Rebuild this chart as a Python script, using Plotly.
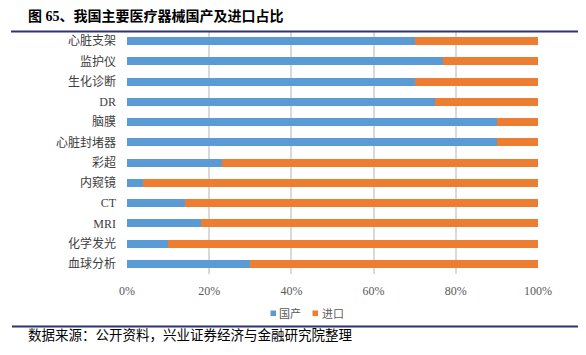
import plotly.graph_objects as go

categories = ["心脏支架", "监护仪", "生化诊断", "DR", "脑膜", "心脏封堵器",
              "彩超", "内窥镜", "CT", "MRI", "化学发光", "血球分析"]
domestic = [70, 77, 70, 75, 90, 90, 23, 4, 14, 18, 10, 30]
imported = [100 - v for v in domestic]
series_names = ["国产", "进口"]
series_colors = ["#5B9BD5", "#ED7D31"]
x_ticks = [0, 20, 40, 60, 80, 100]
x_ticklabels = ["0%", "20%", "40%", "60%", "80%", "100%"]

# the page body has an 8px margin: figure origin sits at page (8, 8)
OFF = 8
W, H = 586 - OFF, 355 - OFF
# plot area in page pixels
L, R, T, B = 127, 538, 31, 274
pw, ph = R - L, B - T

def px(x):
    return (x - L) / pw

def py(y):
    return (B - y) / ph

FONT = "Liberation Serif, Noto Sans CJK SC, serif"

fig = go.Figure()
for name, vals, col in zip(series_names, [domestic, imported], series_colors):
    fig.add_trace(go.Bar(y=categories, x=vals, name=name, orientation="h",
                         marker=dict(color=col, line=dict(width=0))))

fig.update_layout(
    width=W, height=H,
    barmode="stack", bargap=0.6,
    margin=dict(l=L - OFF, r=586 - R, t=T - OFF, b=355 - B, pad=0, autoexpand=False),
    paper_bgcolor="white", plot_bgcolor="white",
    font=dict(family=FONT, color="#595959", size=12),
    showlegend=False,
    xaxis=dict(range=[0, 100], tickvals=x_ticks, ticktext=x_ticklabels,
               showgrid=True, gridcolor="#D9D9D9", gridwidth=1.5, zeroline=False,
               showline=False, ticks="", ticklabelstandoff=8,
               tickfont=dict(size=12, color="#595959")),
    yaxis=dict(autorange="reversed", showgrid=False, zeroline=False, showline=False,
               ticks="", ticklabelstandoff=10, tickfont=dict(size=12, color="#404040")),
)

# legend: small squares + labels (page-pixel layout of the source)
legend_square_x = [270.5, 312.5]
legend_text_cx = [290, 332.5]
for n, c, sx, tx in zip(series_names, series_colors, legend_square_x, legend_text_cx):
    fig.add_shape(type="rect", xref="paper", yref="paper",
                  x0=px(sx), x1=px(sx + 5.5), y0=py(310.5), y1=py(316),
                  fillcolor=c, line=dict(width=0))
    fig.add_annotation(text=n, xref="paper", yref="paper",
                       x=px(tx), y=py(313.5), xanchor="center", yanchor="middle", showarrow=False,
                       font=dict(family=FONT, size=11, color="#595959"))

# title
fig.add_annotation(text="<b>图 65、我国主要医疗器械国产及进口占比</b>", xref="paper", yref="paper",
                   x=px(156), y=py(15.5), xanchor="center", yanchor="middle", showarrow=False,
                   font=dict(family=FONT, size=14, color="#000000"))
# source
fig.add_annotation(text="数据来源：公开资料，兴业证券经济与金融研究院整理", xref="paper", yref="paper",
                   x=px(189.5), y=py(335.5), xanchor="center", yanchor="middle", showarrow=False,
                   font=dict(family=FONT, size=13.5, color="#000000"))
# lines
fig.add_shape(type="line", xref="paper", yref="paper", x0=px(11), x1=px(600),
              y0=py(31.5), y1=py(31.5), line=dict(color="#2F3370", width=2))
fig.add_shape(type="line", xref="paper", yref="paper", x0=px(12), x1=px(584),
              y0=py(326.5), y1=py(326.5), line=dict(color="#2F3370", width=2))

fig.write_html("out.html")
